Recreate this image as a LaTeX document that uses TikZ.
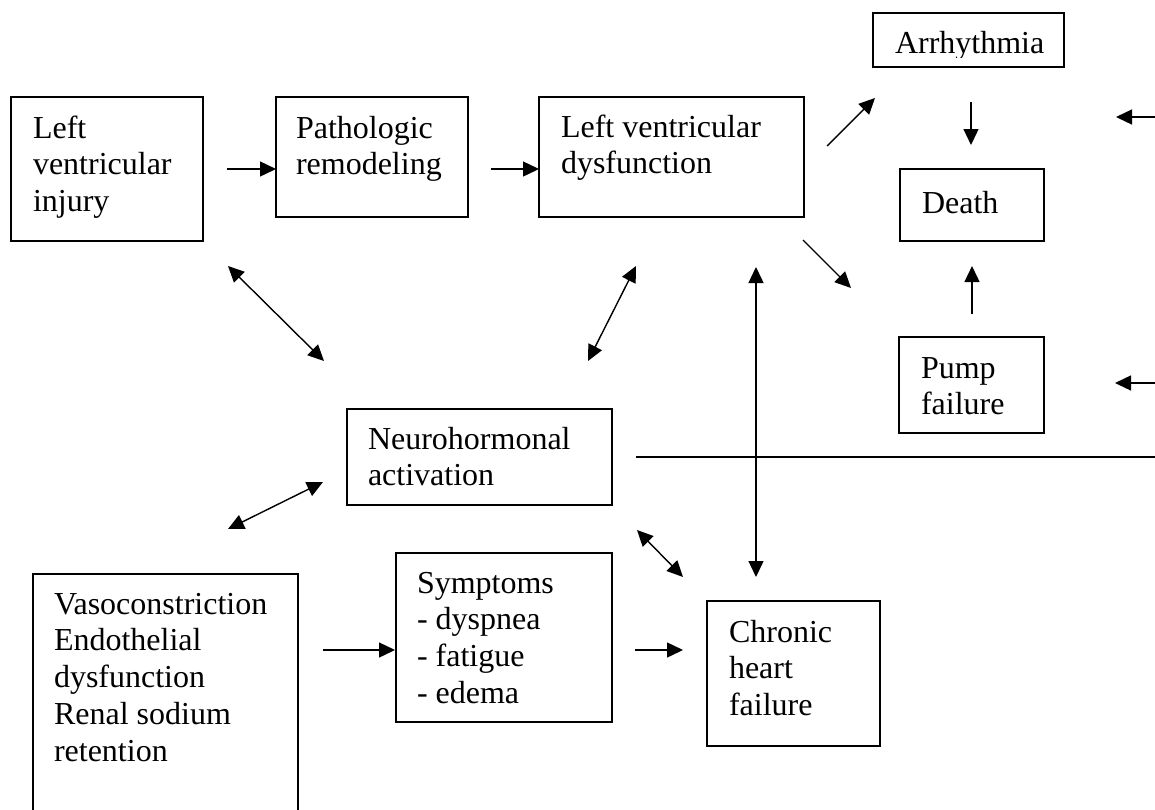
\documentclass[tikz,border=0pt]{standalone}
\usepackage{fontspec}
\setmainfont{Liberation Serif}
\usetikzlibrary{arrows.meta}
\newcommand{\lns}[1]{\begin{tabular}[t]{@{}l@{}}#1\end{tabular}}
\begin{document}
\begin{tikzpicture}[x=1pt,y=-1pt,
  box/.style={draw, line width=1.3pt, anchor=north west, inner sep=0pt, outer sep=0pt},
  txt/.style={anchor=base west, inner sep=0pt, outer sep=0pt, font=\fontsize{32}{36.8}\selectfont},
  con/.style={line width=1.4pt, -{Triangle[length=16pt,width=15pt]}},
  bicon/.style={line width=1.4pt, {Triangle[length=16pt,width=15pt]}-{Triangle[length=16pt,width=15pt]}},
  plain/.style={line width=1.4pt}
  ]
\useasboundingbox (0,0) rectangle (1155,809);
\clip (0,0) rectangle (1155,809);
% boxes
\node[box, minimum width=192pt, minimum height=144pt] (lvi) at (11,97) {};
\node[txt] (lvit) at (33,138) {\lns{Left\\ventricular\\injury}};
\node[box, minimum width=192pt, minimum height=120pt] (pr) at (276,97) {};
\node[txt] (prt) at (296,138) {\lns{Pathologic\\remodeling}};
\node[box, minimum width=265pt, minimum height=120pt] (lvd) at (539,97) {};
\node[txt] (lvdt) at (561,137) {\lns{Left ventricular\\dysfunction}};
\node[box, minimum width=191pt, minimum height=54pt] (arr) at (873,13) {};
\begin{scope}
\clip (873,13) rectangle (1064,57);
\node[txt] (arrt) at (895,53) {Arrhythmia};
\end{scope}
\node[box, minimum width=144pt, minimum height=72pt] (death) at (900,169) {};
\node[txt] (deatht) at (922,213) {Death};
\node[box, minimum width=145pt, minimum height=96pt] (pump) at (899,337) {};
\node[txt] (pumpt) at (921,378) {\lns{Pump\\failure}};
\node[box, minimum width=265pt, minimum height=96pt] (neuro) at (347,409) {};
\node[txt] (neurot) at (368,449) {\lns{Neurohormonal\\activation}};
\node[box, minimum width=265pt, minimum height=260pt] (vaso) at (33,574) {};
\node[txt] (vasot) at (54,614) {\lns{Vasoconstriction\\Endothelial\\dysfunction\\Renal sodium\\retention}};
\node[box, minimum width=216pt, minimum height=169pt] (symp) at (396,553) {};
\node[txt] (sympt) at (417,593) {\lns{Symptoms\\- dyspnea\\- fatigue\\- edema}};
\node[box, minimum width=173pt, minimum height=145pt] (chf) at (707,601) {};
\node[txt] (chft) at (729,642) {\lns{Chronic\\heart\\failure}};
% connector end points
\coordinate (a1s) at (227,169); \coordinate (a1e) at (276,169);
\coordinate (a2s) at (491,169); \coordinate (a2e) at (539,169);
\coordinate (a3s) at (827,146); \coordinate (a3e) at (875,98);
\coordinate (a4s) at (971,102); \coordinate (a4e) at (971,145);
\coordinate (a5s) at (1156,117); \coordinate (a5e) at (1116,117);
\coordinate (a6s) at (803,240); \coordinate (a6e) at (851,288);
\coordinate (a7s) at (972,314); \coordinate (a7e) at (972,266);
\coordinate (a8s) at (1156,383); \coordinate (a8e) at (1115,383);
\coordinate (a9s) at (636,457); \coordinate (a9e) at (1156,457);
\coordinate (a10s) at (756,267); \coordinate (a10e) at (756,577);
\coordinate (a11s) at (636,266); \coordinate (a11e) at (588,361);
\coordinate (a12s) at (228,266); \coordinate (a12e) at (324,361);
\coordinate (a13s) at (228,529); \coordinate (a13e) at (323,482);
\coordinate (a14s) at (323,650); \coordinate (a14e) at (395,650);
\coordinate (a15s) at (635,650); \coordinate (a15e) at (683,650);
\coordinate (a16s) at (637,530); \coordinate (a16e) at (683,577);
% connectors
\draw[con] (a1s) -- (a1e);
\draw[con] (a2s) -- (a2e);
\draw[con] (a3s) -- (a3e);
\draw[con] (a4s) -- (a4e);
\draw[con] (a5s) -- (a5e);
\draw[con] (a6s) -- (a6e);
\draw[con] (a7s) -- (a7e);
\draw[con] (a8s) -- (a8e);
\draw[plain] (a9s) -- (a9e);
\draw[bicon] (a10s) -- (a10e);
\draw[bicon] (a11s) -- (a11e);
\draw[bicon] (a12s) -- (a12e);
\draw[bicon] (a13s) -- (a13e);
\draw[con] (a14s) -- (a14e);
\draw[con] (a15s) -- (a15e);
\draw[bicon] (a16s) -- (a16e);
\end{tikzpicture}
\end{document}
